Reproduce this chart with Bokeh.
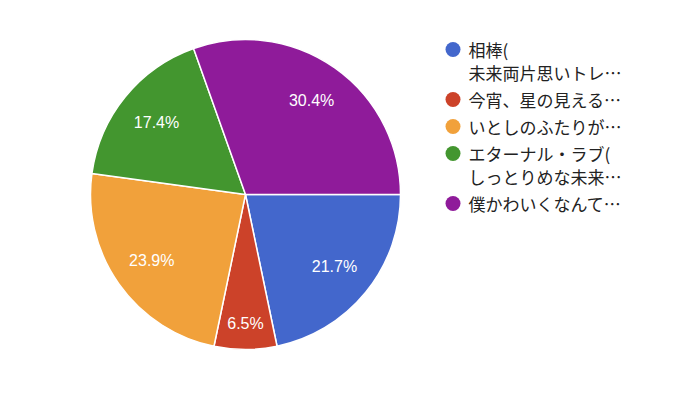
import math
from bokeh.plotting import figure
from bokeh.models import Range1d, ColumnDataSource
from bokeh.core.properties import value
from bokeh.embed import file_html
from bokeh.resources import INLINE

# ---- data ----
counts = [10, 3, 11, 8, 14]
colors = ["#4367CC", "#CC4229", "#F1A13B", "#43962F", "#8F1B9A"]
legend_lines = [
    ["相棒(", "未来両片思いトレ…"],
    ["今宵、星の見える…"],
    ["いとしのふたりが…"],
    ["エターナル・ラブ(", "しっとりめな未来…"],
    ["僕かわいくなんて…"],
]

W, H = 664, 385
p = figure(width=W, height=H, output_backend="svg", toolbar_location=None,
           x_range=Range1d(0, W), y_range=Range1d(0, H), min_border=0,
           outline_line_color=None, background_fill_color="white")
p.axis.visible = False
p.grid.visible = False

cx, cy, R = 245, H - 194, 155
total = sum(counts)
starts, ends, lx, ly, ltxt = [], [], [], [], []
c0 = 0.0
for v in counts:
    c1 = c0 + v / total
    starts.append(-2 * math.pi * c1)
    ends.append(-2 * math.pi * c0)
    mid = -math.pi * (c0 + c1)
    frac = v / total
    rl = R * (0.74 if frac > 0.1 else 0.83)
    lx.append(cx + rl * math.cos(mid))
    ly.append(cy + rl * math.sin(mid))
    ltxt.append(f"{frac * 100:.1f}%")
    c0 = c1

src = ColumnDataSource(dict(start=starts, end=ends, color=colors))
p.wedge(x=cx, y=cy, radius=R, start_angle="start", end_angle="end",
        fill_color="color", line_color="white", line_width=1.5, source=src)

p.text(x=lx, y=ly, text=ltxt, text_color="white", text_font=value("Liberation Sans"),
       text_font_size="16px", text_align="center", text_baseline="middle")

# legend
mx, tx = 452.5, 468
y = 49  # screen y
mxs, mys, mcols = [], [], []
txs, tys, tts = [], [], []
for lines, col in zip(legend_lines, colors):
    mxs.append(mx); mys.append(H - y); mcols.append(col)
    for ln in lines:
        txs.append(tx); tys.append(H - y); tts.append(ln)
        y += 23
    y += 4
p.scatter(x=mxs, y=mys, size=15, marker="circle", fill_color=mcols, line_color=None)
p.text(x=txs, y=tys, text=tts, text_color="#222222", text_font=value("Noto Sans CJK JP"),
       text_font_size="17px", text_align="left", text_baseline="middle")

open("out.html", "w").write(file_html(p, INLINE))
